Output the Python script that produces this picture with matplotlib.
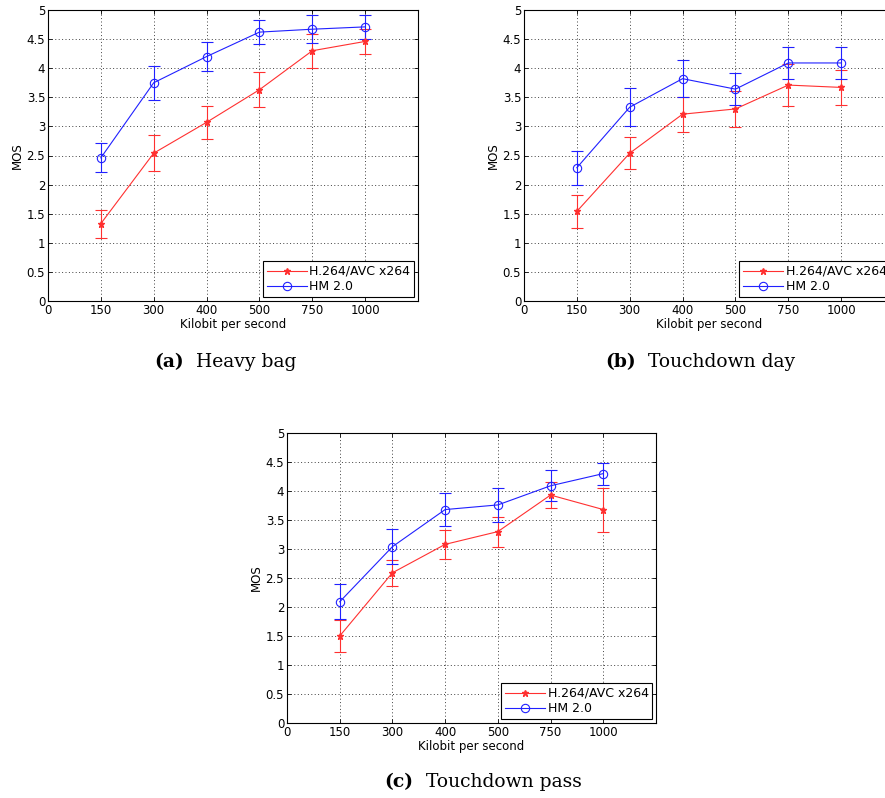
# MOS vs bitrate for three test sequences, H.264 vs HM
import numpy as np
import matplotlib.pyplot as plt
from matplotlib.lines import Line2D

rates = ['0', '150', '300', '400', '500', '750', '1000']

# Heavy bag
heavy_avc = [1.33, 2.54, 3.07, 3.63, 4.30, 4.46]
heavy_avc_err = [0.24, 0.31, 0.28, 0.30, 0.29, 0.22]
heavy_hm = [2.46, 3.75, 4.20, 4.62, 4.67, 4.71]
heavy_hm_err = [0.25, 0.29, 0.25, 0.21, 0.24, 0.20]

# Touchdown day
day_avc = [1.54, 2.54, 3.21, 3.30, 3.71, 3.67]
day_avc_err = [0.28, 0.28, 0.30, 0.31, 0.36, 0.30]
day_hm = [2.29, 3.33, 3.82, 3.64, 4.09, 4.09]
day_hm_err = [0.29, 0.33, 0.32, 0.27, 0.27, 0.27]

# Touchdown pass
pass_avc = [1.50, 2.59, 3.08, 3.30, 3.93, 3.68]
pass_avc_err = [0.28, 0.22, 0.25, 0.26, 0.22, 0.38]
pass_hm = [2.09, 3.04, 3.68, 3.76, 4.09, 4.30]
pass_hm_err = [0.30, 0.30, 0.28, 0.29, 0.27, 0.19]

W, H = 885, 798
fig = plt.figure(figsize=(W / 100, H / 100), dpi=100)
plt.rcParams['font.family'] = 'DejaVu Sans'

RED = '#ff3030'
BLUE = '#2020ff'


def panel(rect, avc, avc_err, hm, hm_err):
    l, t, w, h = rect
    ax = fig.add_axes([l / W, 1 - (t + h) / H, w / W, h / H])
    x = np.arange(1, len(avc) + 1)
    ax.errorbar(x, avc, yerr=avc_err, color=RED, marker='*', ms=5,
                lw=0.8, elinewidth=0.8, capsize=4, capthick=0.8)
    ax.errorbar(x, hm, yerr=hm_err, color=BLUE, marker='o', ms=6,
                mfc='none', mew=0.8, lw=0.8, elinewidth=0.8, capsize=4,
                capthick=0.8)
    ax.set_xlim(0, 7)
    ax.set_ylim(0, 5)
    ax.set_xticks(range(len(rates)))
    ax.set_xticklabels(rates)
    ax.set_yticks(np.arange(0, 5.01, 0.5))
    ax.set_yticklabels(['0', '0.5', '1', '1.5', '2', '2.5', '3', '3.5',
                        '4', '4.5', '5'])
    ax.grid(True, color='0.25', linestyle=(0, (1, 2.5)), linewidth=0.7)
    ax.tick_params(direction='in', length=3, labelsize=8.5, top=True,
                   right=True, pad=2, width=0.6)
    for s in ax.spines.values():
        s.set_linewidth(0.8)
    ax.set_xlabel('Kilobit per second', fontsize=8.5, labelpad=1)
    ax.set_ylabel('MOS', fontsize=8.5, labelpad=2)
    handles = [Line2D([], [], color=RED, marker='*', ms=5, lw=0.8),
               Line2D([], [], color=BLUE, marker='o', ms=6, mfc='none',
                      mew=0.8, lw=0.8)]
    leg = ax.legend(handles, ['H.264/AVC x264', 'HM 2.0'], loc='lower right',
                    fontsize=9, fancybox=False, framealpha=1,
                    edgecolor='black', borderaxespad=0.3, handlelength=3.2,
                    handletextpad=0.2, borderpad=0.3, labelspacing=0.2)
    leg.get_frame().set_linewidth(0.8)
    return ax


panel((48, 10, 370, 291), heavy_avc, heavy_avc_err, heavy_hm, heavy_hm_err)
panel((524, 10, 370, 291), day_avc, day_avc_err, day_hm, day_hm_err)
panel((287, 433, 369, 290), pass_avc, pass_avc_err, pass_hm, pass_hm_err)


def caption(xc, yc, tag, title):
    # bold tag followed by the regular title, centred as one line
    t1 = fig.text(0, 0, tag, family='DejaVu Serif', fontweight='bold',
                  fontsize=13.5)
    t2 = fig.text(0, 0, '  ' + title, family='DejaVu Serif', fontsize=13.5)
    r = fig.canvas.get_renderer()
    w1 = t1.get_window_extent(r).width
    w2 = t2.get_window_extent(r).width
    x0 = xc - (w1 + w2) / 2
    t1.set_position((x0 / W, 1 - yc / H))
    t2.set_position(((x0 + w1) / W, 1 - yc / H))
    t1.set_va('center')
    t2.set_va('center')


caption(225, 362, '(a)', 'Heavy bag')
caption(700, 362, '(b)', 'Touchdown day')
caption(483, 782, '(c)', 'Touchdown pass')

fig.savefig('out.png', dpi=100)
